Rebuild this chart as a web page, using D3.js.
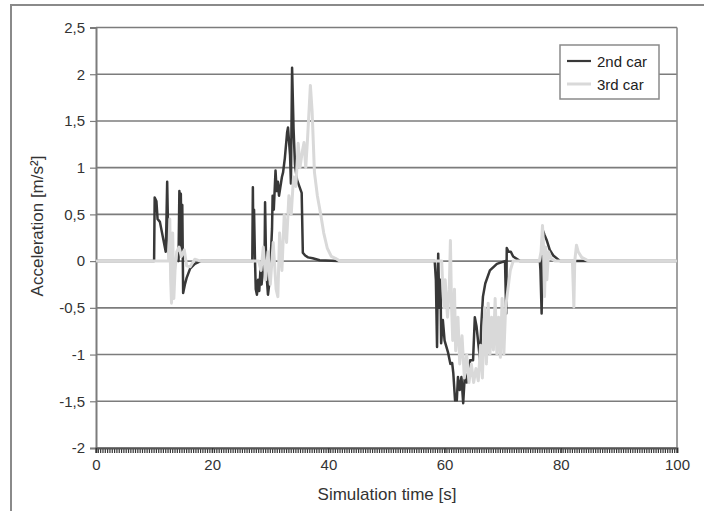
<!DOCTYPE html>
<html><head><meta charset="utf-8">
<script src="https://cdn.jsdelivr.net/npm/d3@7/dist/d3.min.js"></script>
<style>body{margin:0;background:#fff}svg{display:block}</style>
</head><body>
<script>
// ---- data ----
const seriesNames = ["2nd car", "3rd car"];
const yTicks = [2.5, 2, 1.5, 1, 0.5, 0, -0.5, -1, -1.5, -2];
const xTicks = [0, 20, 40, 60, 80, 100];

const car2Time = [0,10.0,10.1,10.4,10.6,11.0,12.0,12.1,12.25,12.4,12.6,14.2,14.35,14.5,14.6,14.75,14.85,15.0,15.3,15.6,16.2,17,18,
  26.9,27.0,27.1,27.2,27.35,27.5,27.7,27.9,28.1,28.3,28.5,28.8,29.0,29.1,29.3,29.6,29.9,30.3,30.4,30.6,30.9,31.1,31.3,31.5,31.7,32.0,32.2,32.5,32.9,33.05,33.4,33.55,33.75,34.0,34.25,34.6,35.0,35.4,35.6,36.0,36.5,37.3,38.5,41.6,
  58.3,58.5,58.7,58.8,58.9,59.1,59.3,59.4,59.7,60.0,60.6,61.0,61.3,61.5,61.8,62.1,62.3,62.6,62.9,63.2,63.5,63.8,64.4,64.9,65.2,65.5,65.75,66.1,66.3,66.6,67.0,67.8,69.0,70.4,70.6,70.7,71.0,71.4,71.8,73,
  76.4,76.5,76.7,76.8,76.9,77.2,77.6,78.1,78.7,79.9,100];
const car2Acc = [0,0,0.68,0.64,0.45,0.42,0.1,0.35,0.85,0.35,0.02,0,0.75,0.1,0.72,0.05,0.6,-0.34,-0.25,-0.18,-0.08,-0.03,0,
  0,0.79,0.1,0.55,0.05,-0.3,-0.36,-0.2,-0.32,-0.1,-0.25,-0.05,-0.1,0.63,-0.1,-0.36,-0.2,0.35,0.7,0.55,0.97,0.75,0.85,0.7,0.78,0.9,0.95,1.1,1.38,1.43,1.13,0.83,2.07,1.42,1.03,0.87,0.8,0.73,0.09,0.06,0.04,0.03,0.01,0,
  0,-0.2,-0.92,-0.3,0.08,-0.5,-0.2,-0.88,-0.63,-0.85,-0.98,-1.1,-1.09,-1.2,-1.49,-1.49,-1.24,-1.38,-1.24,-1.52,-1.2,-1.3,-1.06,-1.06,-0.6,-0.7,-0.85,-1.06,-0.7,-0.38,-0.24,-0.1,-0.03,0,-0.56,0.14,0.1,0.1,0.05,0,
  0,-0.1,-0.56,-0.2,0.33,0.28,0.22,0.12,0.06,0,0];

const car3Time = [0,12.5,12.7,12.85,13.0,13.2,13.4,13.6,13.9,14.3,14.7,15.2,15.6,16.2,17,18,
  28.0,28.4,28.8,29.2,29.6,30.0,30.5,31.0,31.3,31.6,32.0,32.4,32.8,33.2,33.6,34.0,34.4,34.8,35.1,35.5,35.8,36.1,36.4,36.9,37.2,37.6,38.1,38.7,39.2,39.8,40.5,41.2,42,
  59.5,59.7,59.9,60.1,60.5,60.8,61.0,61.2,61.4,61.7,61.9,62.3,62.6,63.0,63.4,63.8,64.2,64.6,65.0,65.4,65.8,66.2,66.5,66.9,67.2,67.5,67.8,68.1,68.4,68.7,69.0,69.3,69.6,69.9,70.2,70.5,70.9,71.3,71.8,
  76.3,76.6,76.85,77.0,77.2,77.4,77.6,77.9,78.3,79,82.0,82.25,82.4,82.7,83.0,83.6,84.5,85.2,100];
const car3Acc = [0,0,0.45,-0.2,-0.45,0.3,-0.4,-0.1,0.1,0.15,0.05,0.12,-0.05,-0.06,0.02,0,
  0,-0.1,0.15,-0.2,0.1,-0.25,0.2,-0.3,-0.38,0.3,-0.1,0.5,0.2,0.7,0.5,0.9,0.8,1.26,1.0,1.17,1.27,1.0,1.3,1.88,1.6,0.95,0.7,0.49,0.3,0.14,0.05,0.03,0,
  0,-0.3,-0.5,-0.2,-0.6,-0.3,0.22,-0.5,-0.85,-0.3,-0.96,-0.6,-1.1,-0.8,-1.25,-1.0,-1.3,-1.1,-1.3,-1.15,-1.28,-0.9,-1.25,-0.5,-1.1,-0.45,-1.0,-0.6,-0.95,-0.4,-1.0,-0.6,-1.03,-0.4,-1.0,-0.5,-0.3,-0.1,0,
  0,0.1,0.38,0.2,-0.38,0.15,-0.2,0.1,0.03,0,0,-0.49,0.0,0.17,0.1,0.04,0.01,0,0];

// ---- layout ----
const W = 704, H = 511;
const m = {left: 96, right: 677, top: 27.5, bottom: 448};
const svg = d3.select("body").append("svg").attr("width", W).attr("height", H);

// outer frame
svg.append("rect").attr("x", 11).attr("y", 5).attr("width", 720).attr("height", 540)
  .attr("fill", "none").attr("stroke", "#8a8a8a").attr("stroke-width", 2);

const x = d3.scaleLinear().domain([0, 100]).range([m.left, m.right]);
const y = d3.scaleLinear().domain([-2, 2.5]).range([m.bottom, m.top]);

const fmt = d => String(d).replace(".", ",");
const font = "'Liberation Sans', Arial, sans-serif";

// grid lines
svg.append("g").selectAll("line").data(yTicks).join("line")
  .attr("x1", m.left).attr("x2", m.right)
  .attr("y1", d => y(d)).attr("y2", d => y(d))
  .attr("stroke", "#7c7c7c").attr("stroke-width", 1.6);

// plot border right
svg.append("line").attr("x1", m.right).attr("x2", m.right).attr("y1", m.top).attr("y2", m.bottom)
  .attr("stroke", "#8a8a8a").attr("stroke-width", 1.6);

// y axis
const yAxis = svg.append("g").attr("transform", `translate(${m.left},0)`)
  .call(d3.axisLeft(y).tickValues(yTicks).tickFormat(fmt).tickSize(6).tickPadding(5));
yAxis.select(".domain").attr("stroke", "#7c7c7c").attr("stroke-width", 2);
yAxis.selectAll(".tick line").attr("stroke", "#7c7c7c").attr("stroke-width", 1.2);
yAxis.selectAll("text").attr("font-family", font).attr("font-size", 15).attr("fill", "#333");

// x axis (dense minor ticks)
const minor = d3.range(0, 100.01, 0.4);
svg.append("g").selectAll("line").data(minor).join("line")
  .attr("x1", d => x(d)).attr("x2", d => x(d))
  .attr("y1", m.bottom).attr("y2", m.bottom + 5)
  .attr("stroke", "#333").attr("stroke-width", 1.2);
const xAxis = svg.append("g").attr("transform", `translate(0,${m.bottom})`)
  .call(d3.axisBottom(x).tickValues(xTicks).tickSize(5).tickPadding(6));
xAxis.select(".domain").attr("stroke", "#555").attr("stroke-width", 2);
xAxis.selectAll(".tick line").attr("stroke", "#333");
xAxis.selectAll("text").attr("font-family", font).attr("font-size", 15).attr("fill", "#333");

// series
const line = d3.line().x(d => x(d[0])).y(d => y(d[1]));
const s2 = car2Time.map((t, i) => [t, car2Acc[i]]);
const s3 = car3Time.map((t, i) => [t, car3Acc[i]]);
svg.append("path").datum(s2).attr("d", line).attr("fill", "none")
  .attr("stroke", "#383838").attr("stroke-width", 2.5).attr("stroke-linejoin", "round");
svg.append("path").datum(s3).attr("d", line).attr("fill", "none")
  .attr("stroke", "#d9d9d9").attr("stroke-width", 3).attr("stroke-linejoin", "round");

// axis titles
svg.append("text").attr("transform", `translate(43,226) rotate(-90)`)
  .attr("text-anchor", "middle").attr("font-family", font).attr("font-size", 17).attr("fill", "#333")
  .text("Acceleration [m/s²]");
svg.append("text").attr("x", 387).attr("y", 500)
  .attr("text-anchor", "middle").attr("font-family", font).attr("font-size", 17).attr("fill", "#333")
  .text("Simulation time [s]");

// legend
const lg = svg.append("g");
lg.append("rect").attr("x", 560).attr("y", 45).attr("width", 99).attr("height", 54)
  .attr("fill", "#fff").attr("stroke", "#8a8a8a").attr("stroke-width", 1.5);
const lcolors = ["#383838", "#d9d9d9"];
seriesNames.forEach((n, i) => {
  const yy = 61 + i * 23;
  lg.append("line").attr("x1", 567).attr("x2", 591).attr("y1", yy).attr("y2", yy)
    .attr("stroke", lcolors[i]).attr("stroke-width", i ? 3 : 2.2);
  lg.append("text").attr("x", 597).attr("y", yy + 5.5)
    .attr("font-family", "'Liberation Sans Narrow', 'Liberation Sans', Arial, sans-serif")
    .attr("font-size", 15).attr("fill", "#222").text(n);
});
</script>
</body></html>
